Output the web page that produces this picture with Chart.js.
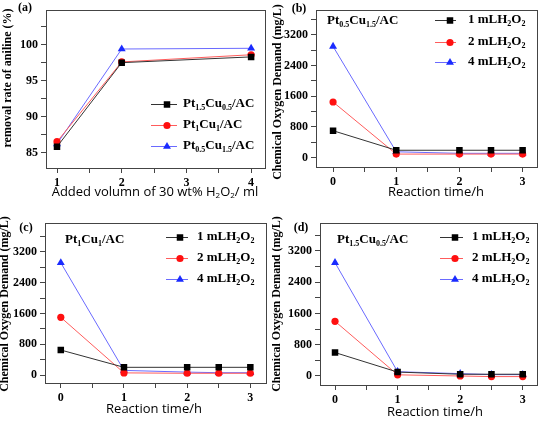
<!DOCTYPE html>
<html>
<head>
<meta charset="utf-8">
<script src="https://cdn.jsdelivr.net/npm/chart.js@4.4.0/dist/chart.umd.min.js"></script>
<style>
  html, body { margin: 0; padding: 0; background: #fff; }
  body { width: 543px; height: 421px; position: relative; overflow: hidden; }
  .panel { position: absolute; }
</style>
</head>
<body>
<div class="panel" style="left:0;top:0"><canvas id="chartA" width="272" height="210"></canvas></div>
<div class="panel" style="left:272px;top:0"><canvas id="chartB" width="271" height="210"></canvas></div>
<div class="panel" style="left:0;top:210px"><canvas id="chartC" width="272" height="211"></canvas></div>
<div class="panel" style="left:272px;top:210px"><canvas id="chartD" width="271" height="211"></canvas></div>
<script>
// (a) removal rate of aniline vs added H2O2 volume
const volumeX = [1, 2, 4];
const removalPt15Cu05 = [85.8, 97.5, 98.3];
const removalPt1Cu1 = [86.5, 97.6, 98.6];
const removalPt05Cu15 = [86.2, 99.4, 99.5];
const catalystLabels = ['Pt_{1.5}Cu_{0.5}/AC', 'Pt_{1}Cu_{1}/AC', 'Pt_{0.5}Cu_{1.5}/AC'];

// (b)-(d) COD vs reaction time
const timeX = [0, 1, 2, 2.5, 3];
const codB1 = [700, 190, 190, 190, 190];
const codB2 = [1450, 90, 90, 90, 90];
const codB4 = [2900, 150, 110, 110, 110];
const codC1 = [650, 200, 200, 200, 200];
const codC2 = [1500, 55, 45, 45, 45];
const codC4 = [2920, 120, 75, 60, 60];
const codD1 = [600, 100, 45, 45, 45];
const codD2 = [1400, 30, 0, -15, -15];
const codD4 = [2900, 110, 60, 35, 35];
const h2o2Labels = ['1 mLH_{2}O_{2}', '2 mLH_{2}O_{2}', '4 mLH_{2}O_{2}'];

const serif = '"Liberation Serif", "Times New Roman", serif';
const sans = '"Open Sans", "Liberation Sans", sans-serif';
const boxColor = '#444';

const seriesStyles = [
    { line: '#333333', fill: '#000000', shape: 'rect', r: 4.6 },
    { line: '#ff5c5c', fill: '#ff1010', shape: 'circle', r: 3.6 },
    { line: '#6a6aff', fill: '#1a2bff', shape: 'triangle', r: 4.6 }
];

const zip = (xs, ys) => xs.map((x, i) => ({ x: x, y: ys[i] }));

// tick values at every multiple of step inside [min, max]
const stepTicks = (min, max, step) => {
    const out = [];
    for (let k = Math.ceil(min / step); k * step <= max + 1e-9; k++) {
        out.push({ value: Math.round(k * step * 1000) / 1000 });
    }
    return out;
};

const parseRich = (str) => {
    const out = [];
    const re = /_\{([^}]*)\}/g;
    let i = 0, m;
    while ((m = re.exec(str))) {
        if (m.index > i) out.push({ t: str.slice(i, m.index), sub: false });
        out.push({ t: m[1], sub: true });
        i = re.lastIndex;
    }
    if (i < str.length) out.push({ t: str.slice(i), sub: false });
    return out;
};

const drawRich = (ctx, str, x, y, size, family, weight, align) => {
    const parts = parseRich(str);
    const subSize = Math.round(size * 0.62);
    const fontOf = p => `${weight} ${p.sub ? subSize : size}px ${family}`;
    let w = 0;
    parts.forEach(p => { ctx.font = fontOf(p); p.w = ctx.measureText(p.t).width; w += p.w; });
    let cx = align === 'center' ? x - w / 2 : x;
    ctx.textAlign = 'left';
    ctx.textBaseline = 'middle';
    ctx.fillStyle = '#000';
    parts.forEach(p => {
        ctx.font = fontOf(p);
        ctx.fillText(p.t, cx, p.sub ? y + size * 0.32 : y);
        cx += p.w;
    });
};

const drawMarker = (ctx, st, x, y) => {
    ctx.fillStyle = st.fill;
    ctx.beginPath();
    if (st.shape === 'rect') {
        const s = st.r * Math.SQRT1_2;
        ctx.rect(x - s, y - s, 2 * s, 2 * s);
    } else if (st.shape === 'circle') {
        ctx.arc(x, y, st.r, 0, Math.PI * 2);
    } else {
        ctx.moveTo(x, y - st.r);
        ctx.lineTo(x + st.r * 0.866, y + st.r * 0.5);
        ctx.lineTo(x - st.r * 0.866, y + st.r * 0.5);
        ctx.closePath();
    }
    ctx.fill();
};

// draws the frame, panel letter, axis titles, note and legend
const panelPlugin = (spec) => ({
    id: 'panelText',
    afterDraw(chart) {
        const ctx = chart.ctx;
        const a = chart.chartArea;
        ctx.save();
        ctx.strokeStyle = boxColor;
        ctx.lineWidth = 1;
        ctx.strokeRect(Math.round(a.left) + 0.5, Math.round(a.top) + 0.5,
            Math.round(a.right - a.left) - 1, Math.round(a.bottom - a.top) - 1);

        drawRich(ctx, spec.letter, spec.letterPos[0], spec.letterPos[1], 12, serif, 'bold', 'center');
        drawRich(ctx, spec.xTitle, spec.xTitlePos[0], spec.xTitlePos[1], 13, sans, 'normal', 'center');

        ctx.save();
        ctx.translate(spec.yTitlePos[0], spec.yTitlePos[1]);
        ctx.rotate(-Math.PI / 2);
        drawRich(ctx, spec.yTitle, 0, 0, 12, serif, 'bold', 'center');
        ctx.restore();

        if (spec.note) drawRich(ctx, spec.note, spec.notePos[0], spec.notePos[1], 13, serif, 'bold', 'left');

        const lg = spec.legend;
        lg.labels.forEach((lab, i) => {
            const st = seriesStyles[i];
            const y = lg.rows[i];
            ctx.strokeStyle = st.line;
            ctx.lineWidth = 1;
            ctx.beginPath();
            ctx.moveTo(lg.line[0], y + 0.5);
            ctx.lineTo(lg.line[1], y + 0.5);
            ctx.stroke();
            drawMarker(ctx, st, lg.marker, y + 0.5);
            drawRich(ctx, lab, lg.text, y, 13, serif, 'bold', 'left');
        });
        ctx.restore();
    }
});

const makeChart = (id, series, xs, area, xRange, yRange, yStep, yMajor, spec) => {
    const canvas = document.getElementById(id);
    const datasets = series.map((ys, i) => {
        const st = seriesStyles[i];
        return {
            data: zip(xs, ys),
            borderColor: st.line,
            borderWidth: 1,
            backgroundColor: st.fill,
            pointBackgroundColor: st.fill,
            pointBorderWidth: 0,
            pointStyle: st.shape,
            pointRadius: st.r,
            pointHoverRadius: st.r,
            tension: 0,
            fill: false
        };
    });
    const tickFont = { family: serif, size: 12, weight: 'bold' };
    return new Chart(canvas, {
        type: 'line',
        data: { datasets: datasets },
        options: {
            responsive: false,
            animation: false,
            events: [],
            layout: { padding: { left: 0, top: area.top, right: canvas.width - area.right, bottom: 0 } },
            plugins: { legend: { display: false }, tooltip: { enabled: false } },
            scales: {
                x: {
                    type: 'linear',
                    min: xRange[0],
                    max: xRange[1],
                    afterBuildTicks: s => { s.ticks = stepTicks(xRange[0], xRange[1], 0.5); },
                    afterFit: s => { s.height = canvas.height - area.bottom; },
                    border: { display: false },
                    grid: { drawOnChartArea: false, drawTicks: true, tickLength: 4, tickColor: boxColor },
                    ticks: {
                        autoSkip: false,
                        maxRotation: 0,
                        padding: 3,
                        color: '#000',
                        font: tickFont,
                        callback: v => (Number.isInteger(v) ? v : '')
                    }
                },
                y: {
                    type: 'linear',
                    min: yRange[0],
                    max: yRange[1],
                    afterBuildTicks: s => { s.ticks = stepTicks(yRange[0], yRange[1], yStep); },
                    afterFit: s => { s.width = area.left; },
                    border: { display: false },
                    grid: { drawOnChartArea: false, drawTicks: true, tickLength: 5, tickColor: boxColor },
                    ticks: {
                        autoSkip: false,
                        padding: 3,
                        color: '#000',
                        font: tickFont,
                        callback: v => (Math.abs(v % yMajor) < 1e-6 ? v : '')
                    }
                }
            }
        },
        plugins: [panelPlugin(spec)]
    });
};

makeChart('chartA', [removalPt15Cu05, removalPt1Cu1, removalPt05Cu15], volumeX,
    { left: 46, right: 266, top: 2, bottom: 169 }, [0.83, 4.23], [82.7, 104.8], 2.5, 5, {
        letter: '(a)', letterPos: [25, 8],
        yTitle: 'removal rate of aniline (%)', yTitlePos: [8, 78],
        xTitle: 'Added volumn of 30 wt% H_{2}O_{2}/ ml', xTitlePos: [155, 192],
        legend: { labels: catalystLabels, rows: [104, 125, 146], line: [151, 177], marker: 167, text: 183 }
    });

makeChart('chartB', [codB1, codB2, codB4], timeX,
    { left: 44, right: 269, top: 2, bottom: 168 }, [-0.27, 3.25], [-273, 3845], 400, 800, {
        letter: '(b)', letterPos: [27, 9],
        yTitle: 'Chemical Oxygen Demand (mg/L)', yTitlePos: [6, 92],
        xTitle: 'Reaction time/h', xTitlePos: [164, 192],
        note: 'Pt_{0.5}Cu_{1.5}/AC', notePos: [55, 21],
        legend: { labels: h2o2Labels, rows: [20, 42, 62], line: [163, 184], marker: 178, text: 196 }
    });

makeChart('chartC', [codC1, codC2, codC4], timeX,
    { left: 45, right: 268, top: 13, bottom: 174 }, [-0.25, 3.27], [-234, 3954], 400, 800, {
        letter: '(c)', letterPos: [26, 18],
        yTitle: 'Chemical Oxygen Demand (mg/L)', yTitlePos: [5, 94],
        xTitle: 'Reaction time/h', xTitlePos: [154, 199],
        note: 'Pt_{1}Cu_{1}/AC', notePos: [65, 30],
        legend: { labels: h2o2Labels, rows: [27, 48, 69], line: [166, 188], marker: 180, text: 197 }
    });

makeChart('chartD', [codD1, codD2, codD4], timeX,
    { left: 48, right: 268, top: 13, bottom: 176 }, [-0.24, 3.25], [-256, 3916], 400, 800, {
        letter: '(d)', letterPos: [29, 18],
        yTitle: 'Chemical Oxygen Demand (mg/L)', yTitlePos: [5, 94],
        xTitle: 'Reaction time/h', xTitlePos: [163, 202],
        note: 'Pt_{1.5}Cu_{0.5}/AC', notePos: [65, 30],
        legend: { labels: h2o2Labels, rows: [27, 48, 69], line: [168, 191], marker: 183, text: 200 }
    });
</script>
</body>
</html>
